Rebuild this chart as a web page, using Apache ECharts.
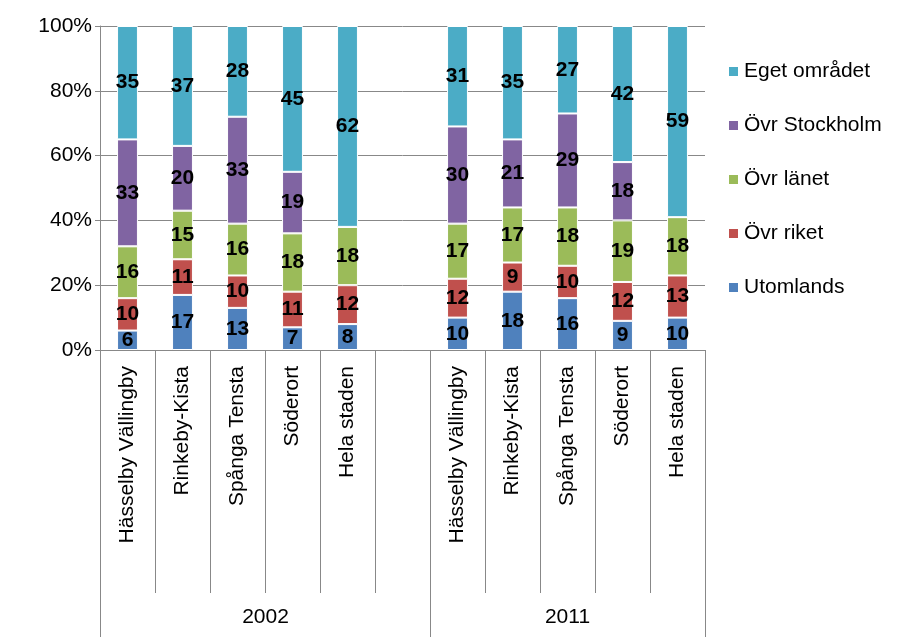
<!DOCTYPE html>
<html>
<head>
<meta charset="utf-8">
<script src="https://cdn.jsdelivr.net/npm/echarts@6/dist/echarts.min.js"></script>
<style>html,body{margin:0;padding:0;background:#fff}#main{width:923px;height:637px}</style>
</head>
<body>
<div id="main"></div>
<script>
var categories = ['Hässelby Vällingby', 'Rinkeby-Kista', 'Spånga Tensta', 'Söderort', 'Hela staden', '',
    'Hässelby Vällingby', 'Rinkeby-Kista', 'Spånga Tensta', 'Söderort', 'Hela staden'];
var years = ['2002', '2011'];
var utomlands = [6, 17, 13, 7, 8, null, 10, 18, 16, 9, 10];
var ovrRiket = [10, 11, 10, 11, 12, null, 12, 9, 10, 12, 13];
var ovrLanet = [16, 15, 16, 18, 18, null, 17, 17, 18, 19, 18];
var ovrStockholm = [33, 20, 33, 19, 0, null, 30, 21, 29, 18, 0];
var egetOmradet = [35, 37, 28, 45, 62, null, 31, 35, 27, 42, 59];
var yTicks = [0, 20, 40, 60, 80, 100];

var myChart = echarts.init(document.getElementById('main'));
var font = 'Arial, "Liberation Sans", sans-serif';

function mk(name, data, color) {
    return {
        name: name,
        type: 'bar',
        stack: 'total',
        barWidth: '38%',
        data: data,
        itemStyle: {color: color, borderColor: '#fff', borderWidth: 1},
        label: {
            show: true,
            position: 'inside',
            fontFamily: font,
            fontSize: 21,
            fontWeight: 'bold',
            color: '#000',
            formatter: function (p) { return p.value ? p.value : ''; }
        }
    };
}

var option = {
    animation: false,
    grid: {left: 100, right: 218, top: 26, bottom: 287},
    legend: {
        orient: 'vertical',
        left: 722,
        top: 56,
        itemGap: 33,
        itemWidth: 11,
        itemHeight: 11,
        icon: 'rect',
        textStyle: {fontFamily: font, fontSize: 21, color: '#000'},
        data: ['Eget området', 'Övr Stockholm', 'Övr länet', 'Övr riket', 'Utomlands']
    },
    xAxis: [{
        type: 'category',
        data: categories,
        axisLine: {lineStyle: {color: '#888'}},
        axisTick: {show: true, interval: 0, length: 243, lineStyle: {color: '#888'}},
        axisLabel: {rotate: 90, interval: 0, fontFamily: font, fontSize: 21, color: '#000', margin: 16}
    }, {
        type: 'category',
        position: 'bottom',
        offset: 243,
        data: categories,
        axisLine: {show: false},
        axisTick: {
            show: true,
            length: 50,
            interval: function (i) { return i === 0 || i === 6 || i === 11; },
            lineStyle: {color: '#888'}
        },
        axisLabel: {
            interval: 0,
            margin: 14,
            fontFamily: font, fontSize: 21, color: '#000',
            formatter: function (v, i) {
                if (i === 2) return '{a|' + years[0] + '}';
                if (i === 8) return '{b|' + years[1] + '}';
                return '';
            },
            rich: {
                a: {fontFamily: font, fontSize: 21, color: '#000', padding: [0, 0, 0, 56]},
                b: {fontFamily: font, fontSize: 21, color: '#000'}
            }
        }
    }],
    yAxis: {
        type: 'value',
        min: yTicks[0],
        max: yTicks[yTicks.length - 1],
        interval: 20,
        axisLine: {show: true, lineStyle: {color: '#888'}},
        axisTick: {show: true, lineStyle: {color: '#888'}},
        splitLine: {lineStyle: {color: '#888'}},
        axisLabel: {fontFamily: font, fontSize: 21, color: '#000', formatter: '{value}%'}
    },
    series: [
        mk('Utomlands', utomlands, '#4F81BD'),
        mk('Övr riket', ovrRiket, '#C0504D'),
        mk('Övr länet', ovrLanet, '#9BBB59'),
        mk('Övr Stockholm', ovrStockholm, '#8064A2'),
        mk('Eget området', egetOmradet, '#4BACC6')
    ]
};
myChart.setOption(option);
</script>
</body>
</html>
